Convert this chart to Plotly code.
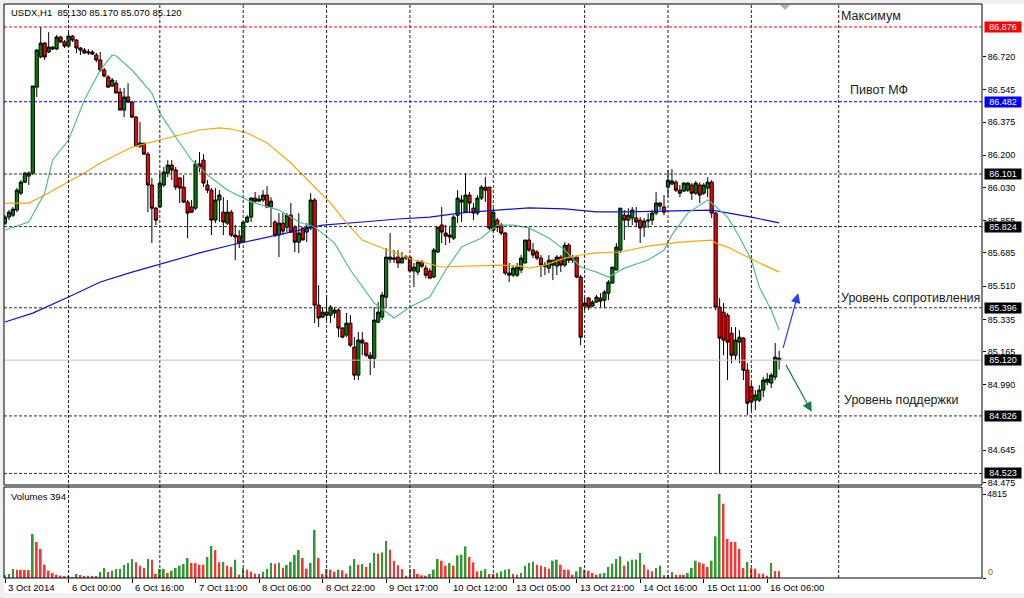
import plotly.graph_objects as go

# ---------------- data ----------------
opens = [85.842, 85.874, 85.884, 85.911, 86.000, 86.058, 86.090, 86.106, 86.559, 86.718,
         86.791, 86.744, 86.770, 86.760, 86.823, 86.797, 86.775, 86.828, 86.807, 86.765,
         86.754, 86.739, 86.744, 86.728, 86.702, 86.649, 86.612, 86.565, 86.580, 86.533,
         86.438, 86.507, 86.480, 86.401, 86.248, 86.264, 86.206, 86.043, 85.921, 85.927,
         86.043, 86.106, 86.148, 86.122, 86.080, 86.032, 85.953, 85.927, 85.921, 86.154,
         86.174, 86.043, 86.016, 85.858, 85.964, 85.900, 85.842, 85.900, 85.779, 85.774,
         85.742, 85.848, 85.874, 85.974, 85.958, 85.964, 85.990, 85.927, 85.848, 85.779,
         85.842, 85.821, 85.884, 85.821, 85.742, 85.816, 85.795, 85.816, 85.964, 85.410,
         85.347, 85.373, 85.357, 85.368, 85.384, 85.289, 85.252, 85.315, 85.189, 85.041,
         85.226, 85.210, 85.146, 85.130, 85.320, 85.347, 85.452, 85.663, 85.652, 85.663,
         85.632, 85.658, 85.663, 85.590, 85.584, 85.637, 85.605, 85.590, 85.558, 85.690,
         85.832, 85.790, 85.779, 85.763, 85.884, 85.964, 85.900, 85.990, 85.921, 85.895,
         85.974, 86.032, 86.032, 85.805, 85.858, 85.832, 85.790, 85.579, 85.568, 85.568,
         85.595, 85.632, 85.753, 85.700, 85.690, 85.658, 85.621, 85.605, 85.647, 85.616,
         85.663, 85.621, 85.726, 85.647, 85.663, 85.558, 85.405, 85.447, 85.405, 85.426,
         85.447, 85.436, 85.473, 85.526, 85.595, 85.700, 85.884, 85.858, 85.869, 85.869,
         85.858, 85.821, 85.853, 85.858, 85.895, 85.948, 85.927, 86.032, 86.048, 86.058,
         86.016, 86.011, 86.016, 86.043, 86.000, 86.043, 86.000, 86.027, 86.058, 85.895,
         85.400, 85.373, 85.357, 85.262, 85.146, 85.215, 85.236, 85.067, 84.980, 84.909,
         84.909, 84.962, 85.004, 84.999, 85.031, 85.130]
highs = [85.884, 85.911, 85.927, 86.027, 86.069, 86.111, 86.115, 86.565, 86.760, 86.876,
         86.797, 86.849, 86.775, 86.833, 86.828, 86.807, 86.845, 86.833, 86.812, 86.770,
         86.765, 86.760, 86.754, 86.739, 86.744, 86.660, 86.622, 86.607, 86.596, 86.554,
         86.554, 86.580, 86.485, 86.406, 86.375, 86.264, 86.217, 86.080, 85.927, 86.106,
         86.138, 86.174, 86.174, 86.138, 86.085, 86.095, 85.964, 85.964, 86.174, 86.217,
         86.206, 86.069, 86.027, 86.027, 86.016, 85.979, 85.964, 85.911, 85.832, 85.805,
         85.848, 85.884, 85.979, 86.006, 85.990, 86.016, 86.037, 85.979, 85.858, 85.895,
         85.895, 85.895, 85.948, 85.832, 85.895, 85.821, 85.842, 86.000, 85.974, 85.515,
         85.400, 85.463, 85.410, 85.400, 85.394, 85.294, 85.368, 85.357, 85.241, 85.268,
         85.268, 85.215, 85.162, 85.400, 85.426, 85.479, 85.711, 85.790, 85.700, 85.700,
         85.690, 85.674, 85.663, 85.632, 85.647, 85.647, 85.621, 85.605, 85.711, 85.821,
         85.927, 85.832, 85.821, 85.884, 86.016, 85.990, 86.106, 86.006, 85.948, 85.990,
         86.043, 86.085, 86.032, 85.921, 85.869, 85.842, 85.795, 85.632, 85.621, 85.632,
         85.674, 85.753, 85.821, 85.737, 85.700, 85.674, 85.637, 85.674, 85.647, 85.674,
         85.674, 85.742, 85.737, 85.674, 85.663, 85.568, 85.452, 85.452, 85.436, 85.463,
         85.473, 85.489, 85.542, 85.610, 85.737, 85.921, 85.911, 85.921, 85.927, 85.927,
         85.874, 85.869, 85.895, 85.911, 86.006, 85.953, 85.990, 86.122, 86.127, 86.069,
         86.043, 86.058, 86.058, 86.053, 86.064, 86.058, 86.053, 86.085, 86.069, 85.900,
         85.447, 85.421, 85.368, 85.294, 85.294, 85.278, 85.241, 85.104, 85.004, 84.962,
         84.988, 85.031, 85.052, 85.052, 85.210, 85.170]
lows = [85.832, 85.858, 85.874, 85.900, 85.990, 86.053, 86.043, 86.095, 86.507, 86.712,
        86.702, 86.739, 86.754, 86.754, 86.791, 86.765, 86.770, 86.797, 86.739, 86.728,
        86.733, 86.728, 86.728, 86.691, 86.638, 86.612, 86.554, 86.559, 86.528, 86.438,
        86.401, 86.475, 86.396, 86.243, 86.238, 86.201, 85.900, 85.737, 85.832, 85.921,
        86.032, 86.085, 86.069, 86.016, 85.948, 85.948, 85.763, 85.895, 85.911, 86.111,
        86.032, 86.000, 85.779, 85.842, 85.848, 85.779, 85.832, 85.769, 85.647, 85.711,
        85.737, 85.842, 85.848, 85.948, 85.953, 85.953, 85.921, 85.821, 85.769, 85.663,
        85.779, 85.795, 85.790, 85.690, 85.684, 85.753, 85.742, 85.805, 85.315, 85.294,
        85.342, 85.331, 85.315, 85.342, 85.241, 85.236, 85.241, 85.189, 85.015, 85.015,
        85.146, 85.136, 85.041, 85.078, 85.315, 85.331, 85.400, 85.632, 85.632, 85.605,
        85.632, 85.647, 85.584, 85.505, 85.568, 85.605, 85.552, 85.552, 85.552, 85.684,
        85.737, 85.726, 85.737, 85.753, 85.842, 85.848, 85.895, 85.895, 85.858, 85.884,
        85.964, 85.953, 85.805, 85.795, 85.795, 85.779, 85.568, 85.531, 85.558, 85.558,
        85.579, 85.632, 85.690, 85.658, 85.647, 85.558, 85.568, 85.579, 85.542, 85.568,
        85.584, 85.610, 85.632, 85.632, 85.552, 85.199, 85.384, 85.384, 85.400, 85.421,
        85.400, 85.394, 85.436, 85.526, 85.595, 85.684, 85.753, 85.821, 85.832, 85.821,
        85.737, 85.769, 85.816, 85.832, 85.884, 85.911, 85.884, 85.979, 86.043, 86.006,
        85.979, 86.006, 86.006, 85.964, 85.990, 85.948, 85.990, 85.979, 85.869, 85.384,
        84.523, 85.146, 85.015, 85.104, 85.120, 85.104, 85.015, 84.830, 84.856, 84.856,
        84.899, 84.925, 84.988, 84.973, 85.015, 85.070]
closes = [85.874, 85.900, 85.916, 86.016, 86.058, 86.106, 86.106, 86.565, 86.754, 86.791,
          86.718, 86.770, 86.760, 86.823, 86.797, 86.775, 86.828, 86.807, 86.765, 86.754,
          86.739, 86.744, 86.733, 86.702, 86.649, 86.617, 86.559, 86.596, 86.528, 86.438,
          86.507, 86.480, 86.401, 86.248, 86.264, 86.206, 86.043, 85.921, 85.858, 86.053,
          86.111, 86.148, 86.122, 86.032, 86.027, 85.953, 85.895, 85.900, 86.154, 86.138,
          86.053, 86.016, 85.858, 85.964, 85.990, 85.848, 85.900, 85.779, 85.769, 85.737,
          85.848, 85.874, 85.974, 85.958, 85.969, 85.990, 85.927, 85.958, 85.779, 85.842,
          85.800, 85.884, 85.795, 85.742, 85.790, 85.753, 85.821, 85.964, 85.410, 85.342,
          85.373, 85.357, 85.400, 85.384, 85.289, 85.241, 85.315, 85.199, 85.041, 85.226,
          85.210, 85.146, 85.130, 85.331, 85.373, 85.463, 85.663, 85.652, 85.658, 85.632,
          85.658, 85.663, 85.590, 85.610, 85.637, 85.615, 85.568, 85.552, 85.700, 85.821,
          85.795, 85.774, 85.769, 85.874, 85.974, 85.953, 85.990, 85.948, 85.895, 85.974,
          86.032, 86.016, 85.816, 85.900, 85.821, 85.790, 85.579, 85.568, 85.605, 85.610,
          85.658, 85.753, 85.700, 85.674, 85.658, 85.621, 85.615, 85.647, 85.621, 85.663,
          85.621, 85.726, 85.647, 85.658, 85.558, 85.241, 85.421, 85.400, 85.426, 85.452,
          85.431, 85.479, 85.531, 85.610, 85.716, 85.921, 85.858, 85.884, 85.911, 85.848,
          85.816, 85.853, 85.858, 85.895, 85.948, 85.932, 85.900, 86.069, 86.064, 86.016,
          86.000, 86.053, 86.053, 86.000, 86.053, 85.990, 86.043, 86.058, 85.895, 85.400,
          85.236, 85.226, 85.215, 85.146, 85.226, 85.241, 85.067, 84.893, 84.899, 84.936,
          84.962, 85.015, 85.020, 85.041, 85.136, 85.120]
volumes = [153, 229, 516, 478, 470, 460, 455, 2521, 2063, 1662,
           764, 420, 287, 191, 134, 96, 90, 57, 229, 172,
           96, 134, 115, 96, 344, 573, 344, 420, 516, 520,
           745, 860, 1089, 898, 707, 573, 1089, 1051, 229, 516,
           520, 287, 420, 573, 707, 802, 1146, 860, 855, 764,
           760, 1203, 1834, 1604, 898, 917, 707, 630, 1051, 191,
           573, 478, 363, 248, 229, 363, 516, 860, 821, 879,
           592, 745, 917, 1318, 1604, 1146, 535, 860, 2750, 1146,
           229, 516, 478, 363, 478, 439, 248, 707, 1089, 764,
           802, 630, 860, 1432, 1394, 1471, 2120, 1623, 993, 726,
           516, 134, 516, 510, 229, 153, 134, 229, 478, 1089,
           993, 707, 860, 707, 1299, 1337, 1814, 1203, 898, 382,
           420, 516, 229, 225, 287, 382, 478, 516, 229, 191,
           287, 707, 860, 936, 764, 707, 630, 535, 993, 1051,
           764, 478, 470, 191, 382, 630, 478, 420, 287, 191,
           248, 287, 630, 821, 1089, 1242, 707, 955, 1051, 1055,
           1432, 764, 478, 382, 573, 707, 153, 191, 344, 185,
           180, 175, 287, 573, 993, 898, 821, 630, 993, 2388,
           4815, 4259, 2235, 2063, 2060, 1662, 573, 917, 573, 535,
           248, 245, 134, 860, 394, 394]

ma_fast_idx = [0, 6, 10, 12, 16, 20, 24, 27, 28, 32, 37, 39, 43, 47, 51, 56, 62, 69, 74, 78,
               83, 87, 93, 98, 102, 107, 111, 115, 120, 124, 128, 132, 137, 141, 145, 149, 152,
               156, 162, 166, 168, 172, 177, 178, 182, 185, 188, 190, 193, 195]
ma_fast_val = [85.806, 85.848, 86.001, 86.175, 86.280, 86.491, 86.649, 86.728, 86.723, 86.649,
               86.528, 86.423, 86.296, 86.175, 86.096, 86.017, 85.954, 85.911, 85.848, 85.822,
               85.737, 85.595, 85.421, 85.342, 85.400, 85.453, 85.595, 85.716, 85.764, 85.832,
               85.832, 85.817, 85.764, 85.700, 85.611, 85.584, 85.558, 85.605, 85.648, 85.700,
               85.780, 85.895, 85.964, 85.948, 85.874, 85.769, 85.648, 85.505, 85.384, 85.279]
ma_mid_idx = [0, 6, 10, 16, 20, 24, 32, 41, 49, 54, 57, 61, 66, 72, 78, 82, 86, 90, 95, 103,
              110, 115, 124, 130, 132, 136, 141, 145, 149, 155, 162, 170, 178, 179, 182, 186,
              190, 195]
ma_mid_val = [85.948, 85.948, 85.990, 86.059, 86.106, 86.159, 86.243, 86.291, 86.333, 86.344,
              86.338, 86.317, 86.265, 86.159, 86.032, 85.948, 85.843, 85.753, 85.711, 85.648,
              85.611, 85.616, 85.621, 85.616, 85.605, 85.621, 85.658, 85.674, 85.685, 85.690,
              85.721, 85.742, 85.753, 85.737, 85.716, 85.674, 85.632, 85.584]
ma_slow_idx = [0, 7, 16, 24, 32, 41, 49, 57, 66, 74, 80, 90, 99, 107, 115, 124, 132, 141,
               149, 157, 167, 178, 182, 188, 195]
ma_slow_val = [85.321, 85.368, 85.453, 85.532, 85.584, 85.637, 85.685, 85.727, 85.769, 85.806,
               85.832, 85.848, 85.864, 85.874, 85.896, 85.911, 85.922, 85.917, 85.901, 85.901,
               85.906, 85.911, 85.896, 85.874, 85.843]

level_vals = [86.876, 86.482, 86.101, 85.824, 85.396, 84.826, 84.523]
level_cols = ['#ff0000', '#0000ff', '#000000', '#000000', '#000000', '#000000', '#000000']
bid_price = 85.120

price_ticks = [86.720, 86.545, 86.375, 86.200, 86.030, 85.855, 85.685, 85.510,
               85.335, 85.165, 84.990, 84.645, 84.475]
day_grid_idx = [16, 39, 60, 81, 102, 123, 146, 167, 188, 210]
time_label_idx = [0, 16, 32, 48, 64, 80, 96, 112, 128, 144, 160, 176, 192]
time_labels = ['3 Oct 2014', '6 Oct 00:00', '6 Oct 16:00', '7 Oct 11:00', '8 Oct 06:00',
               '8 Oct 22:00', '9 Oct 17:00', '10 Oct 12:00', '13 Oct 05:00', '13 Oct 21:00',
               '14 Oct 16:00', '15 Oct 11:00', '16 Oct 06:00']
vol_max_label = 4815
last_volume = 394
title_text = 'USDX,H1&nbsp;&nbsp;85.130 85.170 85.070 85.120'

# ---------------- layout helpers ----------------
W, H = 1024, 598
ML, MR, MT, MB = 4, 42, 4, 20
PW, PH = W - ML - MR, H - MT - MB
def px(x):
    return (x - ML) / PW
def py(y):
    return (H - MB - y) / PH

main_dom = [py(485), 1.0]
vol_dom = [0.0, py(487)]
FONT = 'Liberation Sans, Arial, sans-serif'

idx = list(range(len(opens)))
vcol = []
for i, v in enumerate(volumes):
    vcol.append('#2f9a2f' if (i == 0 or v > volumes[i - 1]) else '#ff3030')

fig = go.Figure()
fig.add_trace(go.Candlestick(
    x=idx, open=opens, high=highs, low=lows, close=closes,
    increasing=dict(line=dict(color='black', width=1), fillcolor='#008000'),
    decreasing=dict(line=dict(color='black', width=1), fillcolor='#ff0000'),
    whiskerwidth=0, xaxis='x', yaxis='y', showlegend=False, hoverinfo='skip'))
fig.add_trace(go.Scatter(x=ma_slow_idx, y=ma_slow_val, mode='lines',
                         line=dict(color='#1010d0', width=1.2), xaxis='x', yaxis='y',
                         showlegend=False, hoverinfo='skip'))
fig.add_trace(go.Scatter(x=ma_mid_idx, y=ma_mid_val, mode='lines',
                         line=dict(color='#ffa500', width=1.2), xaxis='x', yaxis='y',
                         showlegend=False, hoverinfo='skip'))
fig.add_trace(go.Scatter(x=ma_fast_idx, y=ma_fast_val, mode='lines',
                         line=dict(color='#50c088', width=1.2), xaxis='x', yaxis='y',
                         showlegend=False, hoverinfo='skip'))
fig.add_trace(go.Bar(x=idx, y=volumes, marker=dict(color=vcol, line=dict(width=0)),
                     width=0.45, xaxis='x2', yaxis='y2', showlegend=False, hoverinfo='skip'))

xr = [(ML - 5) / 3.97, (W - MR - 5) / 3.97]
shapes = []
# white chart area over grey frame
shapes.append(dict(type='rect', xref='paper', yref='paper', x0=px(4), x1=px(1024),
                   y0=py(593), y1=py(4), fillcolor='white', line=dict(width=0), layer='below'))
for g in day_grid_idx:
    shapes.append(dict(type='line', xref='x', yref='paper', x0=g, x1=g, y0=0, y1=1,
                       line=dict(color='#202020', width=1, dash='3px,2px')))
for v, c in zip(level_vals, level_cols):
    shapes.append(dict(type='line', xref='paper', yref='y', x0=0, x1=1, y0=v, y1=v,
                       line=dict(color=c if c != '#000000' else '#303030', width=1, dash='3px,2px')))
shapes.append(dict(type='line', xref='paper', yref='y', x0=0, x1=1, y0=bid_price, y1=bid_price,
                   line=dict(color='#c0c0c0', width=1)))
shapes.append(dict(type='rect', xref='paper', yref='paper', x0=0, x1=1, y0=main_dom[0], y1=1,
                   line=dict(color='black', width=1)))
shapes.append(dict(type='rect', xref='paper', yref='paper', x0=0, x1=1, y0=0, y1=vol_dom[1],
                   line=dict(color='black', width=1)))
# chart-shift marker
shapes.append(dict(type='path', xref='paper', yref='paper',
                   path=f'M {px(780)} {py(5)} L {px(790)} {py(5)} L {px(785)} {py(10)} Z',
                   fillcolor='#b0b0b0', line=dict(width=0)))

ann = []
ann.append(dict(text=title_text, xref='paper', yref='paper', x=px(9), y=py(12.5),
                xanchor='left', yanchor='middle', showarrow=False,
                font=dict(family=FONT, size=9.5, color='black')))
ann.append(dict(text=f'Volumes {last_volume}', xref='paper', yref='paper', x=px(9), y=py(497),
                xanchor='left', yanchor='middle', showarrow=False,
                font=dict(family=FONT, size=9.5, color='black')))
ann.append(dict(text=str(vol_max_label), xref='paper', yref='paper', x=px(985), y=py(494),
                xanchor='left', yanchor='middle', showarrow=False,
                font=dict(family=FONT, size=9, color='black')))
ann.append(dict(text='0', xref='paper', yref='paper', x=px(986), y=py(572),
                xanchor='left', yanchor='middle', showarrow=False,
                font=dict(family=FONT, size=9, color='#a06010')))
for v, c in zip(level_vals + [bid_price], level_cols + ['#000000']):
    ann.append(dict(text=f'{v:.3f}', xref='paper', yref='y', x=1, y=v, xshift=2,
                    xanchor='left', yanchor='middle', showarrow=False, bgcolor=c,
                    width=36, height=10, borderpad=0, align='center',
                    font=dict(family=FONT, size=9, color='white')))
for i, t in zip(time_label_idx, time_labels):
    ann.append(dict(text=t, xref='x2', yref='paper', x=i, y=py(587), xshift=1,
                    xanchor='left', yanchor='middle', showarrow=False,
                    font=dict(family=FONT, size=9.5, color='black')))
for t, x, y in [('Максимум', 839, 16), ('Пивот МФ', 848, 90),
                ('Уровень сопротивления', 839, 298), ('Уровень поддержки', 842, 400)]:
    ann.append(dict(text=t, xref='paper', yref='paper', x=px(x), y=py(y),
                    xanchor='left', yanchor='middle', showarrow=False,
                    font=dict(family=FONT, size=12.5, color='#202020')))
# hand-drawn arrows (bar index / price coordinates)
ann.append(dict(x=199.8, y=85.472, ax=195.9, ay=85.177, xref='x', yref='y', axref='x', ayref='y',
                showarrow=True, arrowhead=2, arrowsize=1.6, arrowwidth=1.2, arrowcolor='#1e40ff', text=''))
ann.append(dict(x=203.2, y=84.848, ax=196.5, ay=85.103, xref='x', yref='y', axref='x', ayref='y',
                showarrow=True, arrowhead=2, arrowsize=1.6, arrowwidth=1.2, arrowcolor='#108040', text=''))

fig.update_layout(
    width=W, height=H, margin=dict(l=ML, r=MR, t=MT, b=MB),
    paper_bgcolor='#f0f0f0', plot_bgcolor='white',
    boxgap=0.2, boxgroupgap=0,
    showlegend=False, shapes=shapes, annotations=ann,
    xaxis=dict(domain=[0, 1], range=xr, anchor='y', showticklabels=False, showgrid=False,
               zeroline=False, rangeslider=dict(visible=False), fixedrange=True),
    xaxis2=dict(domain=[0, 1], range=xr, anchor='y2', showticklabels=False, showgrid=False,
                zeroline=False, ticks='outside', ticklen=4, tickcolor='black',
                tickmode='array', tickvals=time_label_idx, fixedrange=True),
    yaxis=dict(domain=main_dom, range=[84.462, 86.997], side='right', showgrid=False,
               zeroline=False, tickmode='array', tickvals=price_ticks,
               ticktext=[f'{v:.3f}' for v in price_ticks], ticks='outside', ticklen=3,
               tickcolor='black', tickfont=dict(family=FONT, size=9, color='black'),
               fixedrange=True),
    yaxis2=dict(domain=vol_dom, range=[0, 5216], side='right', showgrid=False, zeroline=False,
                showticklabels=False, ticks='outside', ticklen=3, tickcolor='black',
                tickmode='array', tickvals=[0, vol_max_label], fixedrange=True),
)

fig.write_html("out.html", config={'displayModeBar': False},
               post_script="document.body.style.margin='0';document.body.style.overflow='hidden';")
